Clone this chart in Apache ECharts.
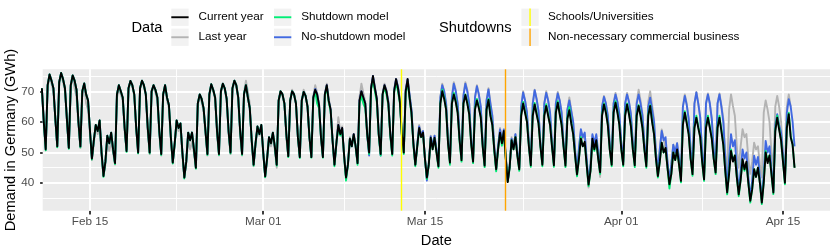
<!DOCTYPE html>
<html><head><meta charset="utf-8">
<script src="https://cdn.jsdelivr.net/npm/echarts@6/dist/echarts.min.js"></script>
<style>html,body{margin:0;padding:0;background:#fff}#c{width:830px;height:249px}</style>
</head><body><div id="c"></div>
<script>
// Time is in days since 2020-02-11 00:00; samples every 4 h starting 2020-02-10 20:00.
const START_DAY = -1 / 6;
const STEP_DAY = 1 / 6;

// one row per day: 00h, 04h, 08h, 12h, 16h, 20h
const currentYear = [71,
 60,51,72,75.5,73.5,71,  61,52,73,76,74,71,  61,51.5,72,75.2,73.5,70.5,  60,52,70,72.6,69,67,
 57,48,54,59,57,60.5,  50,42.3,47,55.5,53,56.5,  51,46.5,69,72,70,68,  58,50.5,71,73.4,72,69,
 58,50,71,73.5,72,69,  58,50,70,72,70.5,68,  57,49.5,69,72,68,65.5,  55,46.7,53,60.5,58,59.5,
 50,41.8,47,56.5,54,56.5,  51,45,66,69,67.5,64.5,  57,49.5,69,72.3,70.5,68,  57,49.5,70,72.5,71,67.5,
 57,50,71,73.5,72,68,  57,49.5,69,72,68,64.5,  54,46,53,58.5,56,59,  50,42.2,48,55,53,56.5,
 52,46,67,70,69,66,  56,48.8,67,70,69,66,  55,48.5,67,69.8,68.5,65,  55,48.5,68,70.5,69,65.5,
 55,48.5,69,72,67,64,  54,46,53,59,56,58,  49,41.8,46,54.5,52,56,  52,46.5,67,70,68,66,
 56,50,71,75,71,67.5,  56,49.5,69,72,70,66,  56,49.5,70,74,71,66.5,  56,50,70,74,68,63,
 53,46,52,58,55,56.5,  48,41.8,46,54.8,51,54.8,  50,45.5,66,70,67.5,64,  53,46.7,66,69,66.5,63,
 54,47.5,66,68.8,66,62.5,  53,47,64,67,64.5,61.5,  52,45.7,64,67.2,62,59,  51,44.5,51,56.5,53,57,
 48,40.3,45,54,51,55,  49,44.5,62,66,63,60,  52,45.8,62,65.7,62.5,59.5,  52,46,62,65.2,62,59,
 52,45.8,63,66.3,62.5,59,  52,45.7,61,63.8,59.5,56,  49,42.8,48,54.5,52,53.5,  46,39.5,44,54.5,51,54,
 48,43.5,62,65.7,63,59,  51,46,63,66.3,63,59,  51,46,62,65.7,62.5,58.5,  51,45.8,62,65.2,62,58,
 51,45.5,62,65.2,60,56,  48,42.3,47,53.2,50,51.5,  45,39.6,43,50,47.5,51,  46,40.7,59,63,59.5,56,
 48,42.9,58,61.4,58,55,  47,41.2,58,61.4,58,54.5,  48,43.4,58,61.4,57,52.5,  44,36.9,43,50.5,47,49,
 42,36.3,41,47.8,44.5,47,  40,34.2,38,44.5,42,45,  40,33.6,40,50,46.5,49,  43,36.9,57,61.4,57.5,54,
 47,40.1,58,62.5,55,52.5,
 45];

const lastYear = [70,
 60,51.5,71.5,75,72.5,70,  61,52,72.5,75.5,73,70,  60,51.5,71.5,74.5,71,68,  59,51.5,69,72,66,64,
 56,47.5,53,58.5,56,59,  49,42.5,46,53,50.5,53.5,  50,46,68,70.5,69,67,  57,50.5,70.5,73,71.5,68.5,
 58,50,70.5,73,71.5,68.5,  57,49.5,69.5,71.5,69.5,67,  56,49,68.5,71.5,67,64.5,  54,46.5,52.5,59.5,57,58,
 49,42,46.5,54,51,53.5,  50,45,65.5,68.5,66.5,63.5,  56,49,68.5,71.5,70,67.5,  56,49,69.5,72,70.5,67,
 56,49.5,70.5,73,71.5,67.5,  56,49,69.5,73.5,70,66,  53,45.5,52.5,58,55.5,58,  49,42,47.5,54.5,52,55,
 51,45,66.5,70,68.5,65.5,  55,48.5,67,70.5,69,66,  55,48.5,67,70.5,68.5,65.5,  55,48.5,68.5,72,69.5,66,
 55,48.5,69,72.5,67.5,64.5,  54,46.5,54,61.5,57,58.5,  49,42,46.5,55,52.5,56,  52,46.5,68,72.5,69.5,66.5,
 56,49.5,71,75,71.5,67.5,  56,49.5,69.5,72.5,70.5,66.5,  56,49.5,70.5,74,71.5,67,  56,50,70.5,74,69,64,
 53,46,52.5,59,56,57,  48,41.5,46.5,55.5,52,55.5,  51,45.5,68,72.5,70,66,  54,47,68.5,73,70.5,66,
 55,48,69,73,70.5,66,  54,47.5,68,72,69,65,  53,46,67,71,66.5,62,  52,44.5,52,58,54,57.5,
 48.5,40.5,45.5,55,52,56,  50,45,65,70,67,63,  53,46.5,66,70.5,67.5,63.5,  53,46.5,66,70,67,63,
 53,46.5,66,69.8,67,63,  53,46.5,64,68,64,60,  50,43,51,57,54.5,56,  47,38.5,45,55.5,52.5,55.5,
 49,42,65,68.5,66,62,  53,47,66,69.5,66.5,62.5,  53,47,66,69.5,66.5,62.5,  53,47,66.5,70.5,67,62.5,
 53,47,66.5,70,65.5,61,  50,43.5,51,57.5,54.5,55,  47,40,46,52.5,50,53,  48,41.5,65,69,66,61,
 51,44.5,66,69.8,66,61.5,  50,43,66,69.3,66,61,  51,44.5,66,69.3,65.5,61,  50,43,64,69,65.2,62,
 52,45,52,57.6,55,56,  48,43,47,53.2,51,52,  46,41.8,63,67,64,60,  50,45.6,65,68.5,65,60,
 50,42.3,65,69,65];

const shutdownModel = [71,
 60,50.7,72,75.5,73.5,71,  61,51.7,73,76,74,71,  61,51.2,72,75.2,73.5,70.5,  60,51.7,70,72.6,69,67,
 57,47.7,54,59,57,60.5,  50,42,47,55.5,53,56.5,  51,46.2,69,72,70,68,  58,50.2,71,73.4,72,69,
 58,49.7,71,73.5,72,69,  58,49.7,70,72,70.5,68,  57,49.2,69,72,68,65.5,  55,46.4,53,60.5,58,59.5,
 50,41.5,47,56.5,54,56.5,  51,44.7,66,69,67.5,64.5,  57,49.2,69,72.3,70.5,68,  57,49.2,70,72.5,71,67.5,
 57,49.7,71,73.5,72,68,  57,49.2,69,72,68,64.5,  54,45.7,53,58.5,56,59,  50,41.9,48,55,53,56.5,
 52,45.7,67,70,69,66,  56,48.5,67,70,69,66,  55,48.2,67,69.8,68.5,65,  55,48.3,67.5,70,66,64.5,
 55,48.3,68.5,71.5,66.5,63.5,  54,45.5,53,58.5,55.5,57.5,  49,40.8,46,54.5,52,55.5,  52,46,66,68.5,66,64.5,
 56,49.5,70.5,74,70,66.5,  55.5,49,68.5,71.5,69,65.5,  55.5,49,69.5,73,70,66,  55.5,49.5,69.5,73,67.5,62.5,
 52.5,45.5,52,57.5,55,56,  48,41.3,46,54.5,51,54.5,  50,45,66,70.5,68,64,  53,46,66,69.5,67,63,
 53.5,47,66,69,66.5,62.5,  53,46.5,64.5,67.5,65,61.5,  52,45.2,64,67.5,62.5,59,  50.5,43.8,51,56,52.2,56.5,
 48,40.5,45,54,51,55,  49,44,62.5,66.5,63.5,60,  52,45.3,62.5,66.2,63,59.5,  52,45.5,62.5,65.8,62.5,59,
 52,45.3,63.5,66.8,63,59,  52,45.2,61.5,64.8,60,56,  49,42.2,48,55,52,53,  46,39,44,53.5,50.5,53.5,
 48,43,62.5,66,63.5,59,  51,45.5,63.5,66.8,63.5,59,  51,45.5,62.5,66,63,58.5,  51,45.2,62.5,65.5,62.5,58,
 51,45,62.5,65.5,60.5,56,  48,41.8,47,53.2,50,51,  45,38.2,43,50,47.5,50.5,  46,40.2,59.5,63.5,60,56,
 48,42.4,58.5,62,58.5,55,  47,40.7,58.5,62,58.5,54.5,  48,42.9,58.5,62,57.5,52.5,  44,36.3,43.5,51,47.5,49,
 42,35.7,41,47.5,44,46.5,  40,33.6,38,44.5,42,45,  40,33.1,40.5,50.5,47,49,  43,36.4,57.5,62,58,54,
 47,39.6,58.5,63,55.5,52.5,
 45];

const noShutdownModel = [71,
 60,51,72,75.5,73.5,71,  61,52,73,76,74,71,  61,51.5,72,75.2,73.5,70.5,  60,52,70,72.6,69,67,
 57,48,54,59,57,60.5,  50,42.3,47,55.5,53,56.5,  51,46.5,69,72,70,68,  58,50.5,71,73.4,72,69,
 58,50,71,73.5,72,69,  58,50,70,72,70.5,68,  57,49.5,69,72,68,65.5,  55,46.7,53,60.5,58,59.5,
 50,41.8,47,56.5,54,56.5,  51,45,66,69,67.5,64.5,  57,49.5,69,72.3,70.5,68,  57,49.5,70,72.5,71,67.5,
 57,50,71,73.5,72,68,  57,49.5,69,72,68,64.5,  54,46,53,58.5,56,59,  50,42.2,48,55,53,56.5,
 52,46,67,70,69,66,  56,48.8,67,70,69,66,  55,48.5,67,69.8,68.5,65,  55,48.5,68,70.8,69,65.5,
 55,48.5,69,72,67,64,  54,46,53,59,56,58,  49,41.8,46,54.5,52,56,  52,46.5,67,70,68,66,
 56,49,71,75,71,67.5,  56,49,69,72,70,66.5,  56,49.5,70.5,74,71.5,67,  56,50,70.5,74,69,64,
 53,46,52.5,58.5,55.5,57,  48,40.8,46.5,55.2,52,55.5,  51,45.5,68,72,70,66,  54,47,68,72.5,70,66,
 55,48,68.5,72.5,70,66,  54,47.5,68,71.7,69,65,  53,46,67,70.6,66,62,  52,44.5,52,57.5,54,57.5,
 48.5,40.5,45.5,54.5,51.5,56,  50,45,65,69.6,67,63,  53,46.5,66,70.4,67.5,63.5,  53,46.5,66,69.5,67,63,
 53,46.5,66,69.3,67,63,  53,46.5,64,67,63.5,60,  51,44,51.5,57.6,55,56.5,  48,40.5,46,56,53,56,
 50,44.5,65,68.2,66,62,  53,47,66,69,66.5,62.5,  53,47,66,69,66.5,62.5,  53,47,66,69,66,62,
 53,47,65,67.9,64,60,  50,44,51,57,54,55,  47,41,46,52.5,50,53,  48,42,65,68.5,65.5,61,
 51,44.5,66,69.6,66,61.5,  50,43,66,69,66,61,  51,44.5,66,69,65,60,  48,38,48,56,52,54,
 45,37.5,44,51,48,50,  42,35,41,48.9,46,48.5,  42,34.5,43,53.8,50,52,  45,37.5,59,62.5,59,56.5,
 49,41,63,67.4,65,60,
 52];

const seriesNames = ['Current year', 'Last year', 'Shutdown model', 'No-shutdown model'];
const seriesColors = ['#000000', '#B3B3B3', '#00EE76', '#4169E1'];

const tickDays = [4, 19, 33, 50, 64];
const tickLabels = ['Feb 15', 'Mar 01', 'Mar 15', 'Apr 01', 'Apr 15'];
const minorTickDays = [11.5, 26, 41.5, 57];
const yMajorTicks = [40, 50, 60, 70];
const yMinorTicks = [35, 45, 55, 65, 75];

const shutdownDays = [30.96, 39.96];
const shutdownNames = ['Schools/Universities', 'Non-necessary commercial business'];
const shutdownColors = ['#FFFF00', '#FFA500'];

const FONT = '"Liberation Sans", Arial, Helvetica, sans-serif';
const toPts = arr => arr.map((v, i) => [START_DAY + i * STEP_DAY, v]);

const gridMarks = [];
yMajorTicks.forEach(v => gridMarks.push({ yAxis: v, lineStyle: { width: 1.9 } }));
yMinorTicks.forEach(v => gridMarks.push({ yAxis: v, lineStyle: { width: 0.95 } }));
tickDays.forEach(v => gridMarks.push({ xAxis: v, lineStyle: { width: 1.9 } }));
minorTickDays.forEach(v => gridMarks.push({ xAxis: v, lineStyle: { width: 0.95 } }));

function lineSeries(name, data, color, z) {
  return {
    name, type: 'line', data: toPts(data), z,
    showSymbol: false, symbol: 'none', smooth: false, clip: true,
    lineStyle: { color, width: 1.9, join: 'round' },
    emphasis: { disabled: true }, silent: true
  };
}

const chart = echarts.init(document.getElementById('c'), null, { renderer: 'canvas', width: 830, height: 249 });

// legend (drawn as graphics, ggplot style)
const graphic = [];
const keyW = 17.3, keyH = 17.3;
const rowY = [8.6, 28.6];
function addText(x, y, text, size) {
  graphic.push({ type: 'text', x, y, silent: true,
    style: { text, fontSize: size, fontFamily: FONT, fill: '#000', verticalAlign: 'middle', align: 'left' } });
}
addText(131.4, 27.8, 'Data', 14.67);
const dataKeys = [[171.3, 0, 0], [171.3, 1, 1], [274, 0, 2], [274, 1, 3]];
dataKeys.forEach(([kx, r, s]) => {
  graphic.push({ type: 'rect', silent: true, shape: { x: kx, y: rowY[r], width: keyW, height: keyH }, style: { fill: '#F2F2F2' } });
  graphic.push({ type: 'line', silent: true, shape: { x1: kx, y1: rowY[r] + keyH / 2, x2: kx + keyW, y2: rowY[r] + keyH / 2 },
    style: { stroke: seriesColors[s], lineWidth: 1.9 } });
  addText(kx + 27.2, rowY[r] + keyH / 2, seriesNames[s], 11.73);
});
addText(439, 27.8, 'Shutdowns', 14.67);
shutdownNames.forEach((nm, r) => {
  const kx = 521.4;
  graphic.push({ type: 'rect', silent: true, shape: { x: kx, y: rowY[r], width: keyW, height: keyH }, style: { fill: '#F2F2F2' } });
  graphic.push({ type: 'line', silent: true, shape: { x1: kx + keyW / 2, y1: rowY[r], x2: kx + keyW / 2, y2: rowY[r] + keyH },
    style: { stroke: shutdownColors[r], lineWidth: 1.4 } });
  addText(kx + 26.6, rowY[r] + keyH / 2, nm, 11.73);
});

const option = {
  animation: false,
  backgroundColor: '#FFFFFF',
  grid: { left: 42.7, top: 69.3, right: 0, bottom: 38.3, show: true, backgroundColor: '#EBEBEB', borderWidth: 0,
    containLabel: false, outerBoundsMode: 'none' },
  xAxis: {
    type: 'value', min: -0.095, max: 68.07,
    axisLine: { show: false }, splitLine: { show: false },
    axisTick: { show: true, customValues: tickDays, length: 3.7, lineStyle: { color: '#333333', width: 1.9 } },
    axisLabel: { customValues: tickDays, formatter: v => tickLabels[tickDays.indexOf(v)] || '',
      color: '#4D4D4D', fontSize: 11.73, fontFamily: FONT, margin: 5.5 },
    name: 'Date', nameLocation: 'middle', nameGap: 22.5, nameMoveOverlap: false,
    nameTextStyle: { fontSize: 14.67, color: '#000', fontFamily: FONT, verticalAlign: 'top' }
  },
  yAxis: {
    type: 'value', min: 30.95, max: 77.2,
    axisLine: { show: false }, splitLine: { show: false },
    axisTick: { show: true, customValues: yMajorTicks, length: 3.7, lineStyle: { color: '#333333', width: 1.9 } },
    axisLabel: { customValues: yMajorTicks, color: '#4D4D4D', fontSize: 11.73, fontFamily: FONT, margin: 8.5 },
    name: 'Demand in Germany (GWh)', nameLocation: 'middle', nameGap: 24.5, nameRotate: 90, nameMoveOverlap: false,
    nameTextStyle: { fontSize: 14.67, color: '#000', fontFamily: FONT }
  },
  graphic,
  series: [
    { name: 'grid', type: 'line', data: [], silent: true, z: 1,
      markLine: { silent: true, z: 1, symbol: ['none', 'none'], label: { show: false }, animation: false,
        lineStyle: { color: '#FFFFFF', type: 'solid', width: 1.9 }, emphasis: { disabled: true }, data: gridMarks } },
    lineSeries(seriesNames[1], lastYear, seriesColors[1], 2),
    lineSeries(seriesNames[3], noShutdownModel, seriesColors[3], 3),
    lineSeries(seriesNames[2], shutdownModel, seriesColors[2], 4),
    lineSeries(seriesNames[0], currentYear, seriesColors[0], 5),
    { name: 'shutdowns', type: 'line', data: [], silent: true, z: 6,
      markLine: { silent: true, z: 6, symbol: ['none', 'none'], label: { show: false }, animation: false,
        emphasis: { disabled: true },
        data: shutdownDays.map((d, i) => ({ xAxis: d, lineStyle: { color: shutdownColors[i], width: 1.4, type: 'solid' } })) } }
  ]
};
chart.setOption(option);
</script></body></html>
